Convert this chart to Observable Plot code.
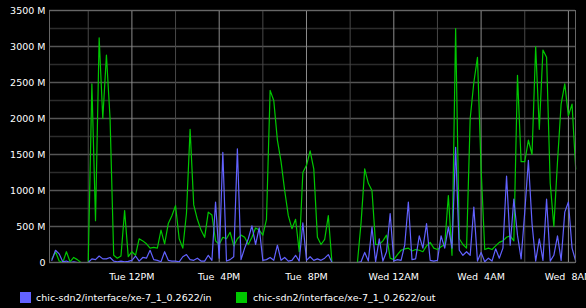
<!DOCTYPE html>
<html><head><meta charset="utf-8">
<script src="https://cdn.jsdelivr.net/npm/d3@7"></script>
<script src="https://cdn.jsdelivr.net/npm/@observablehq/plot@0.6"></script>
<style>
html,body{margin:0;padding:0;background:#000;width:586px;height:308px;overflow:hidden;}
#chart svg{display:block;}
#chart text{white-space:pre;}
#legend{position:relative;height:22px;font-family:"DejaVu Sans";font-size:9.5px;color:#fff;}
#legend .sw{position:absolute;width:11px;height:11px;top:6px;}
#legend .lb{position:absolute;top:6px;line-height:11px;white-space:pre;}
</style></head><body>
<div id="chart"></div>
<div id="legend"></div>
<script>
// 10-minute samples starting Tue 08:20
const startTime = "2023-01-03T08:20:00Z";
const stepMinutes = 10;
const seriesNames = ["chic-sdn2/interface/xe-7_1_0.2622/in", "chic-sdn2/interface/xe-7_1_0.2622/out"];
const seriesColors = ["#6262ff", "#00c800"];

const inValues = [30,170,120,10,20,0,10,0,0,0,0,50,40,90,50,50,70,20,10,20,10,15,30,90,20,70,60,170,40,30,
10,150,30,20,20,10,80,110,40,30,60,20,20,100,30,840,60,1530,20,40,80,1580,40,200,330,510,250,480,30,40,
70,30,240,30,70,20,30,100,20,550,30,80,30,50,30,60,110,0,0,0,0,0,0,0,0,10,140,20,490,10,
330,20,150,680,20,40,30,240,840,40,50,370,200,540,30,20,30,370,200,490,200,1600,170,100,150,100,770,20,140,10,
60,20,190,60,200,1200,240,880,380,50,700,1420,540,20,330,30,880,20,100,370,30,700,840,200,20];

const outValues = [50,150,20,0,150,10,70,40,0,0,0,2480,580,3120,2000,2880,2000,100,60,90,720,80,150,100,330,300,260,200,210,200,
450,260,540,650,790,330,200,680,1850,800,600,450,350,700,660,300,250,350,330,420,230,330,380,350,250,350,480,450,380,600,
2390,2250,1700,1400,1000,650,470,600,150,1250,1350,1550,1300,350,250,320,650,0,0,0,0,0,0,0,0,550,1300,1100,1000,250,
250,300,380,60,40,110,170,190,200,160,180,170,150,230,280,200,180,220,250,930,100,3250,330,250,200,2000,2500,2850,1300,180,
200,180,230,280,300,350,370,300,2600,1400,1400,1700,1500,3000,1850,2950,2850,1100,500,1400,2200,2480,2040,2200,1300];

const yMajorTicks = [0,500,1000,1500,2000,2500,3000,3500];
const yMinorTicks = [250,750,1250,1750,2250,2750,3250];
const xTickTimes = ["2023-01-03T12:00:00Z","2023-01-03T16:00:00Z","2023-01-03T20:00:00Z","2023-01-04T00:00:00Z","2023-01-04T04:00:00Z","2023-01-04T08:00:00Z"];
const xTickLabels = ["Tue 12PM","Tue  4PM","Tue  8PM","Wed 12AM","Wed  4AM","Wed  8AM"];
const xMinorTimes = ["2023-01-03T10:00:00Z","2023-01-03T14:00:00Z","2023-01-03T18:00:00Z","2023-01-03T22:00:00Z","2023-01-04T02:00:00Z","2023-01-04T06:00:00Z"];
const xDomain = ["2023-01-03T08:13:30Z","2023-01-04T08:19:30Z"];

const t0 = Date.parse(startTime);
const data = inValues.map((v, i) => ({time: new Date(t0 + i*stepMinutes*60000), in: v, out: outValues[i]}));
const majorDates = xTickTimes.map(s => new Date(s));
const minorDates = xMinorTimes.map(s => new Date(s));
const labelMap = new Map(majorDates.map((d, i) => [+d, xTickLabels[i]]));

const chart = Plot.plot({
  width: 586, height: 286,
  marginLeft: 49, marginRight: 11, marginTop: 10, marginBottom: 24,
  style: {background: "#000", color: "#fff", fontFamily: "DejaVu Sans", fontSize: "9.5px"},
  x: {type: "utc", domain: xDomain.map(s => new Date(s))},
  y: {domain: [0, 3500]},
  marks: [
    Plot.ruleY(yMinorTicks, {stroke: "#2c2c2c", strokeWidth: 1.5}),
    Plot.ruleY(yMajorTicks, {stroke: "#555", strokeWidth: 1.5}),
    Plot.ruleX(minorDates, {stroke: "#484848"}),
    Plot.ruleX(majorDates, {stroke: "#8c8c8c"}),
    Plot.lineY(data, {x: "time", y: "out", stroke: seriesColors[1], strokeWidth: 1.2}),
    Plot.lineY(data, {x: "time", y: "in", stroke: seriesColors[0], strokeWidth: 1.2}),
    Plot.frame({stroke: "#666"}),
    Plot.axisY({ticks: yMajorTicks, tickFormat: d => d === 0 ? "0" : `${d} M`, tickSize: 0, tickPadding: 4, label: null, fill: "#fff"}),
    Plot.axisX({ticks: majorDates, tickFormat: d => labelMap.get(+d), tickSize: 0, tickPadding: 11, label: null, fill: "#fff"})
  ]
});
document.getElementById("chart").appendChild(chart);

const legend = document.getElementById("legend");
const legendX = [[20, 36], [236, 253]];
seriesNames.forEach((name, i) => {
  const sw = document.createElement("div");
  sw.className = "sw"; sw.style.left = legendX[i][0] + "px"; sw.style.background = seriesColors[i];
  const lb = document.createElement("div");
  lb.className = "lb"; lb.style.left = legendX[i][1] + "px"; lb.textContent = name;
  legend.appendChild(sw); legend.appendChild(lb);
});
</script>
</body></html>
